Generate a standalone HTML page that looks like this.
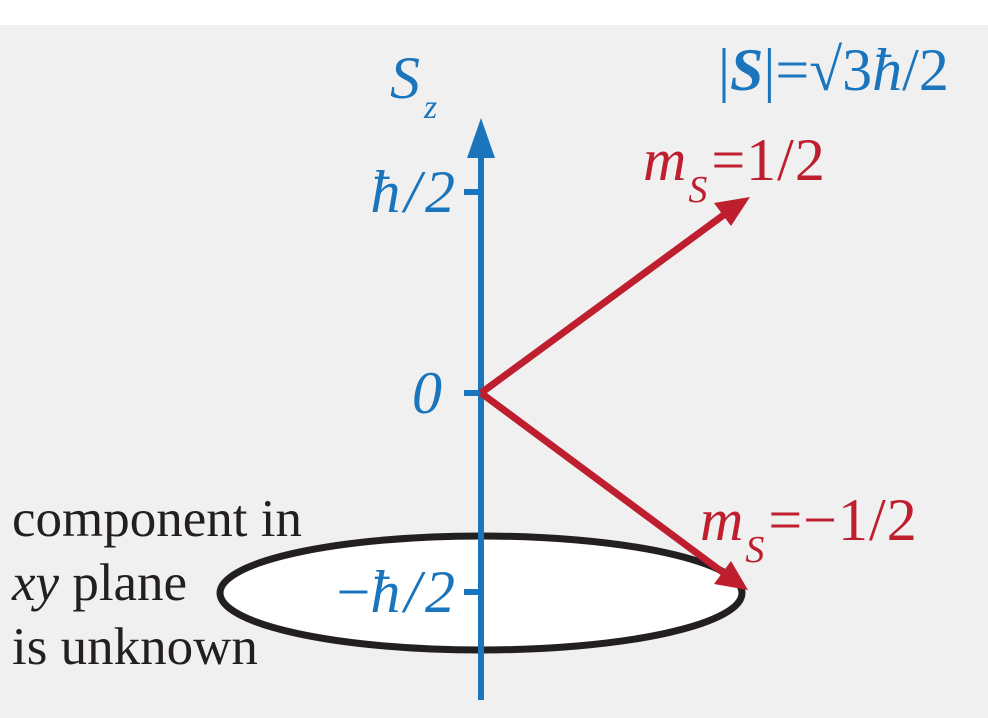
<!DOCTYPE html>
<html><head><meta charset="utf-8"><style>
html,body{margin:0;padding:0;background:#fff}
svg{display:block}
text{font-family:"Liberation Serif",serif}
</style></head><body>
<svg width="988" height="718" viewBox="0 0 988 718">
<rect x="0" y="25" width="988" height="693" fill="#f0f0f0"/>
<ellipse cx="481" cy="593" rx="261" ry="57" fill="#fff" stroke="#231f20" stroke-width="7"/>
<g>
<line x1="481" y1="700" x2="481" y2="150" stroke="#1b75bc" stroke-width="6"/>
<polygon points="481,118 467,158 495,158" fill="#1b75bc"/>
<line x1="464" y1="192" x2="481" y2="192" stroke="#1b75bc" stroke-width="6"/>
<line x1="464" y1="393" x2="481" y2="393" stroke="#1b75bc" stroke-width="6"/>
<line x1="464" y1="592" x2="481" y2="592" stroke="#1b75bc" stroke-width="6"/>
</g>
<g fill="#1b75bc" font-style="italic" font-size="60">
<text x="390" y="98">S<tspan font-size="34" dy="20" dx="4">z</tspan></text>
<text x="455" y="212" text-anchor="end">ħ<tspan dx="4">/</tspan><tspan dx="4">2</tspan></text>
<text x="442" y="413" text-anchor="end">0</text>
<text x="455" y="612" text-anchor="end"><tspan font-style="normal">−</tspan>ħ<tspan dx="4">/</tspan><tspan dx="4">2</tspan></text>
<text x="718" y="90" font-style="normal">|<tspan font-weight="bold" font-style="italic">S</tspan>|=√3<tspan font-style="italic">ħ</tspan>/2</text>
</g>
<g fill="#be1e2d" font-size="60">
<text x="643" y="180"><tspan font-style="italic">m</tspan><tspan font-size="38" font-style="italic" dy="22" dx="2">S</tspan><tspan dy="-22" dx="4" letter-spacing="1">=1/2</tspan></text>
<text x="700" y="540"><tspan font-style="italic">m</tspan><tspan font-size="38" font-style="italic" dy="22" dx="2">S</tspan><tspan dy="-22" dx="4" letter-spacing="1">=−1/2</tspan></text>
</g>
<g stroke="#be1e2d" stroke-width="7" fill="#be1e2d">
<line x1="481" y1="393" x2="725" y2="214"/>
<polygon points="750,197 714,203 731,226" stroke="none"/>
<line x1="481" y1="393" x2="725" y2="574"/>
<polygon points="748,590 731,561 714,584" stroke="none"/>
</g>
<g fill="#231f20" font-size="53">
<text x="12" y="536">component in</text>
<text x="12" y="600"><tspan font-style="italic">xy</tspan> plane</text>
<text x="12" y="664">is unknown</text>
</g>
</svg>
</body></html>
